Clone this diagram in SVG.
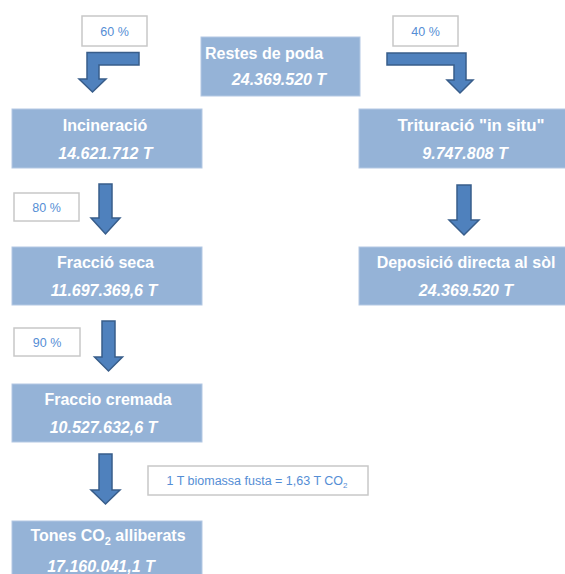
<svg xmlns="http://www.w3.org/2000/svg" width="565" height="574" viewBox="0 0 565 574">
<defs>
<style>
.box{fill:#95B3D7;stroke:#B3C8E3;stroke-width:1}
.t{font-family:"Liberation Sans",Arial,sans-serif;font-size:16px;font-weight:bold;fill:#FFFFFF}
.v{font-family:"Liberation Sans",Arial,sans-serif;font-size:16px;font-weight:bold;font-style:italic;fill:#FFFFFF}
.lbl{fill:#FFFFFF;stroke:#C8C8C8;stroke-width:1.5}
.lt{font-family:"Liberation Sans",Arial,sans-serif;font-size:12.5px;fill:#558ED5}
.arr{fill:#4F81BD;stroke:#385D8A;stroke-width:1.5;stroke-linejoin:miter}
.c{text-anchor:middle}
</style>
</defs>
<rect width="565" height="574" fill="#FFFFFF"/>

<g id="connectors">
  <polygon class="arr" points="139,52.5 87,52.5 87,79 79,79 92.5,92 106,79 99,79 99,65 139,65"/>
  <polygon class="arr" points="387,53 466,53 466,80 473,80 460,93 447,80 454,80 454,65 387,65"/>
  <polygon class="arr" points="99,184 112,184 112,218 120,218 105.5,234 91,218 99,218"/>
  <polygon class="arr" points="457,185 471,185 471,220 479,220 464,235 449,220 457,220"/>
  <polygon class="arr" points="102,321 115,321 115,357 122.5,357 108.5,371 94.5,357 102,357"/>
  <polygon class="arr" points="99,454 112,454 112,490 120,490 105.5,504 91,490 99,490"/>
</g>

<g id="label-60">
  <rect class="lbl" x="82" y="16" width="65" height="30"/>
  <text class="lt c" x="114.5" y="35.5">60 %</text>
</g>
<g id="label-40">
  <rect class="lbl" x="393" y="16" width="65" height="30"/>
  <text class="lt c" x="425.5" y="35.5">40 %</text>
</g>
<g id="label-80">
  <rect class="lbl" x="14" y="193" width="65" height="28"/>
  <text class="lt c" x="46.5" y="211.5">80 %</text>
</g>
<g id="label-90">
  <rect class="lbl" x="14" y="328" width="66" height="28"/>
  <text class="lt c" x="47" y="346.5">90 %</text>
</g>
<g id="label-co2">
  <rect class="lbl" x="148" y="466" width="220" height="29"/>
  <text class="lt c" x="257" y="485" font-size="12px">1 T biomassa fusta = 1,63 T CO<tspan font-size="8" dy="3">2</tspan></text>
</g>

<g id="restes">
  <rect class="box" x="201" y="37" width="159" height="59"/>
  <text class="t" x="205" y="59">Restes de poda</text>
  <text class="v c" x="279" y="85">24.369.520 T</text>
</g>
<g id="incineracio">
  <rect class="box" x="12" y="109" width="190" height="59"/>
  <text class="t c" x="105" y="131">Incineració</text>
  <text class="v c" x="105.5" y="159">14.621.712 T</text>
</g>
<g id="trituracio">
  <rect class="box" x="359" y="109" width="216" height="59"/>
  <text class="t c" x="471" y="131" textLength="147" lengthAdjust="spacingAndGlyphs">Trituració "in situ"</text>
  <text class="v c" x="465" y="159">9.747.808 T</text>
</g>
<g id="fraccio-seca">
  <rect class="box" x="12" y="247" width="190" height="58"/>
  <text class="t c" x="105.5" y="268">Fracció seca</text>
  <text class="v c" x="104" y="296">11.697.369,6 T</text>
</g>
<g id="deposicio">
  <rect class="box" x="359" y="247" width="216" height="58"/>
  <text class="t c" x="466" y="268">Deposició directa al sòl</text>
  <text class="v c" x="466" y="296">24.369.520 T</text>
</g>
<g id="fraccio-cremada">
  <rect class="box" x="12" y="384" width="190" height="58"/>
  <text class="t c" x="108" y="405">Fraccio cremada</text>
  <text class="v c" x="103.5" y="433">10.527.632,6 T</text>
</g>
<g id="tones-co2">
  <rect class="box" x="12" y="521" width="190" height="60"/>
  <text class="t c" x="108" y="541">Tones CO<tspan font-size="11" dy="4">2</tspan><tspan dy="-4"> alliberats</tspan></text>
  <text class="v c" x="101" y="572">17.160.041,1 T</text>
</g>
</svg>
